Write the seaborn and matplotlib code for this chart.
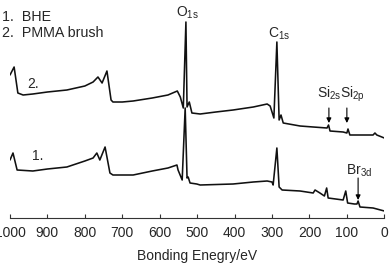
import matplotlib
matplotlib.use("Agg")
import matplotlib.pyplot as plt
import seaborn as sns
import pandas as pd

# ---- data (binding energy in eV, intensity in a.u.) ----
energy_pmma = [1000, 989, 979, 965, 939, 900, 848, 800, 778, 765, 754, 741, 730, 725,
               700, 671, 620, 578, 553, 545, 537, 530, 527, 521, 514, 492, 450, 404,
               350, 313, 305, 295, 287, 281, 276, 270, 225, 190, 153, 149, 145, 110,
               100, 97, 92, 60, 30, 25, 20, 0]
intensity_pmma = [143, 151, 125, 123, 124, 126, 128, 132, 136, 141, 135, 147, 118, 116,
                  116, 117, 120, 123, 127, 121, 110, 196, 111, 116, 105, 104, 106, 108,
                  111, 114, 112, 100, 176, 98, 103, 95, 92, 91, 90, 93, 87, 86,
                  85, 89, 83, 83, 83, 85, 83, 80]

energy_bhe = [1000, 992, 981, 939, 900, 848, 800, 778, 768, 760, 746, 733, 725, 671,
              620, 578, 554, 551, 540, 532, 527, 524, 519, 501, 492, 404, 350, 313,
              300, 297, 287, 281, 273, 225, 190, 185, 172, 160, 154, 150, 130, 110,
              103, 98, 80, 73, 70, 65, 30, 0]
intensity_bhe = [58, 65, 48, 47, 49, 51, 57, 60, 65, 58, 71, 45, 43, 43,
                 47, 50, 53, 48, 38, 110, 40, 41, 35, 34, 33, 34, 36, 37,
                 36, 33, 70, 31, 28, 27, 25, 28, 25, 22, 30, 20, 19, 18,
                 27, 15, 14, 14, 17, 11, 10, 7]

xticks = [1000, 900, 800, 700, 600, 500, 400, 300, 200, 100, 0]

df = pd.concat([
    pd.DataFrame({"energy": energy_pmma, "intensity": intensity_pmma, "sample": "PMMA brush"}),
    pd.DataFrame({"energy": energy_bhe, "intensity": intensity_bhe, "sample": "BHE"}),
])

sns.set_style("white")
plt.rcParams["font.family"] = ["Liberation Sans", "DejaVu Sans"]
plt.rcParams["mathtext.fontset"] = "custom"
plt.rcParams["mathtext.rm"] = "Liberation Sans"
plt.rcParams["mathtext.it"] = "Liberation Sans"

fig = plt.figure(figsize=(3.89, 2.67), dpi=100)
ax = fig.add_axes([10 / 389, 49 / 267, 374.3 / 389, 218 / 267])

sns.lineplot(data=df, x="energy", y="intensity", hue="sample", units="sample",
             estimator=None, palette={"PMMA brush": "#111111", "BHE": "#111111"},
             linewidth=1.15, legend=False, ax=ax)

ax.set_xlim(1000, 0)
ax.set_ylim(0, 218)
ax.set_xticks(xticks)
ax.set_xticklabels([str(t) for t in xticks])
ax.set_yticks([])
ax.set_ylabel("")
ax.set_xlabel("Bonding Enegry/eV", fontsize=10, labelpad=6)
for s in ["top", "left", "right"]:
    ax.spines[s].set_visible(False)
ax.spines["bottom"].set_color("#333333")
ax.spines["bottom"].set_linewidth(0.8)
ax.tick_params(axis="x", direction="in", length=3, width=0.8, color="#333333",
               labelsize=10, pad=6, bottom=True)

# peak labels
fs = 10
ax.text(526, 201, r"O$_{\mathrm{1s}}$", ha="center", va="baseline", fontsize=fs)
ax.text(281, 180, r"C$_{\mathrm{1s}}$", ha="center", va="baseline", fontsize=fs)
ax.text(148, 120, r"Si$_{\mathrm{2s}}$", ha="center", va="baseline", fontsize=fs)
ax.text(85, 120, r"Si$_{\mathrm{2p}}$", ha="center", va="baseline", fontsize=fs)
ax.text(66, 43, r"Br$_{\mathrm{3d}}$", ha="center", va="baseline", fontsize=fs)

arrow = dict(arrowstyle="-|>", color="black", lw=0.8, mutation_scale=7,
             shrinkA=0, shrinkB=0)
ax.annotate("", xy=(148, 95), xytext=(148, 110), arrowprops=arrow)
ax.annotate("", xy=(100, 95), xytext=(100, 110), arrowprops=arrow)
ax.annotate("", xy=(70, 18), xytext=(70, 40), arrowprops=arrow)

# curve numbers
ax.text(954, 130, "2.", ha="left", va="baseline", fontsize=fs)
ax.text(941, 58, "1.", ha="left", va="baseline", fontsize=fs)

# key
fig.text(2 / 389, 1 - 21 / 267, "1.  BHE", ha="left", va="baseline", fontsize=10.3)
fig.text(2 / 389, 1 - 37 / 267, "2.  PMMA brush", ha="left", va="baseline", fontsize=10.3)

fig.savefig("out.png", dpi=100)
